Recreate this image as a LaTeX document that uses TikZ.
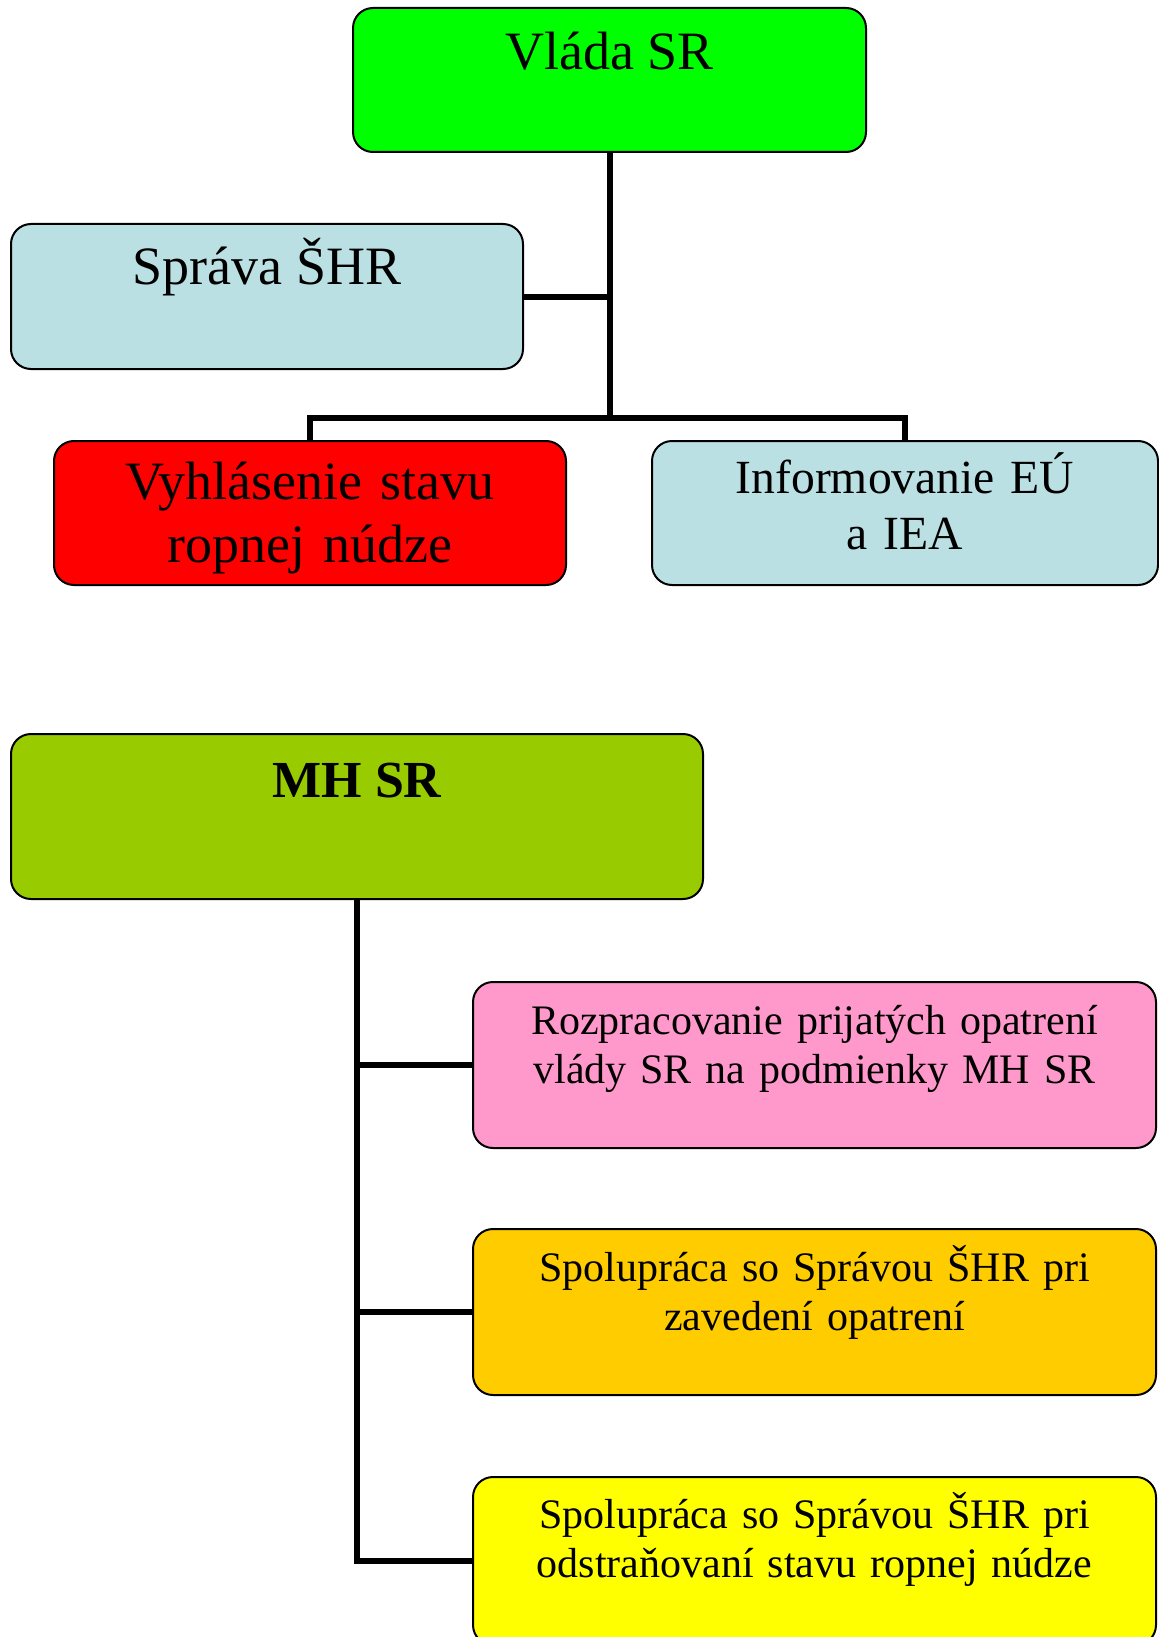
\documentclass[tikz,border=0pt]{standalone}
\usepackage{fontspec}
\setmainfont{Liberation Serif}
\definecolor{vladagreen}{RGB}{0,255,0}
\definecolor{paleblue}{RGB}{187,224,227}
\definecolor{alarmred}{RGB}{255,0,0}
\definecolor{mhgreen}{RGB}{153,204,0}
\definecolor{pinkbox}{RGB}{255,153,204}
\definecolor{goldbox}{RGB}{255,204,0}
\definecolor{yellowbox}{RGB}{255,255,0}
\tikzset{
  box/.style={draw=black, line width=1pt, rounded corners=10pt, inner sep=0pt, align=center},
  link/.style={line width=3pt},
  bigtext/.style={font=\fontsize{27}{31.5}\selectfont},
  smalltext/.style={font=\fontsize{21}{24.5}\selectfont}
}
\begin{document}
\begin{tikzpicture}[x=0.5pt, y=-0.5pt]
\useasboundingbox (0,0) rectangle (1158,1637);
\node[box, bigtext, fill=vladagreen, minimum width=256.5pt, text height=31pt, text depth=41pt] (vlada) at (609.5,80) {Vláda SR};
\node[box, bigtext, fill=paleblue, minimum width=256pt, text height=30.5pt, text depth=42pt] (sprava) at (267,296.5) {Správa ŠHR};
\node[box, bigtext, fill=alarmred, text width=256pt, text height=29pt, text depth=43pt] (vyhlasenie) at (310,513) {Vyhlásenie stavu\\ropnej núdze};
\node[box, font=\fontsize{23.8}{28}\selectfont, fill=paleblue, text width=253pt, text height=26pt, text depth=46pt] (informovanie) at (905,513) {Informovanie EÚ\\a IEA};
\node[box, font=\fontsize{26}{30}\bfseries\selectfont, fill=mhgreen, minimum width=346pt, text height=31.5pt, text depth=51pt] (mh) at (357,816.5) {MH SR};
\node[box, smalltext, fill=pinkbox, text width=341.5pt, text height=26pt, text depth=57pt] (rozpracovanie) at (814.5,1065) {Rozpracovanie prijatých opatrení\\vlády SR na podmienky MH SR};
\node[box, smalltext, fill=goldbox, text width=341.5pt, text height=26pt, text depth=57pt] (spolupraca1) at (814.5,1312) {Spolupráca so Správou ŠHR pri\\zavedení opatrení};
\node[box, smalltext, fill=yellowbox, text width=341.5pt, text height=25.5pt, text depth=58.5pt] (spolupraca2) at (814.5,1561) {Spolupráca so Správou ŠHR pri\\odstraňovaní stavu ropnej núdze};
\coordinate (fork) at (609.5,418);
\draw[link] (vlada.south) -- (fork);
\draw[link] (sprava.east) -- (sprava.east -| fork);
\draw[link] (vyhlasenie.north) |- (fork) -| (informovanie.north);
\draw[link] (mh.south) |- (spolupraca2.west);
\draw[link] (rozpracovanie.west) -- (rozpracovanie.west -| mh.south);
\draw[link] (spolupraca1.west) -- (spolupraca1.west -| mh.south);
\end{tikzpicture}
\end{document}
